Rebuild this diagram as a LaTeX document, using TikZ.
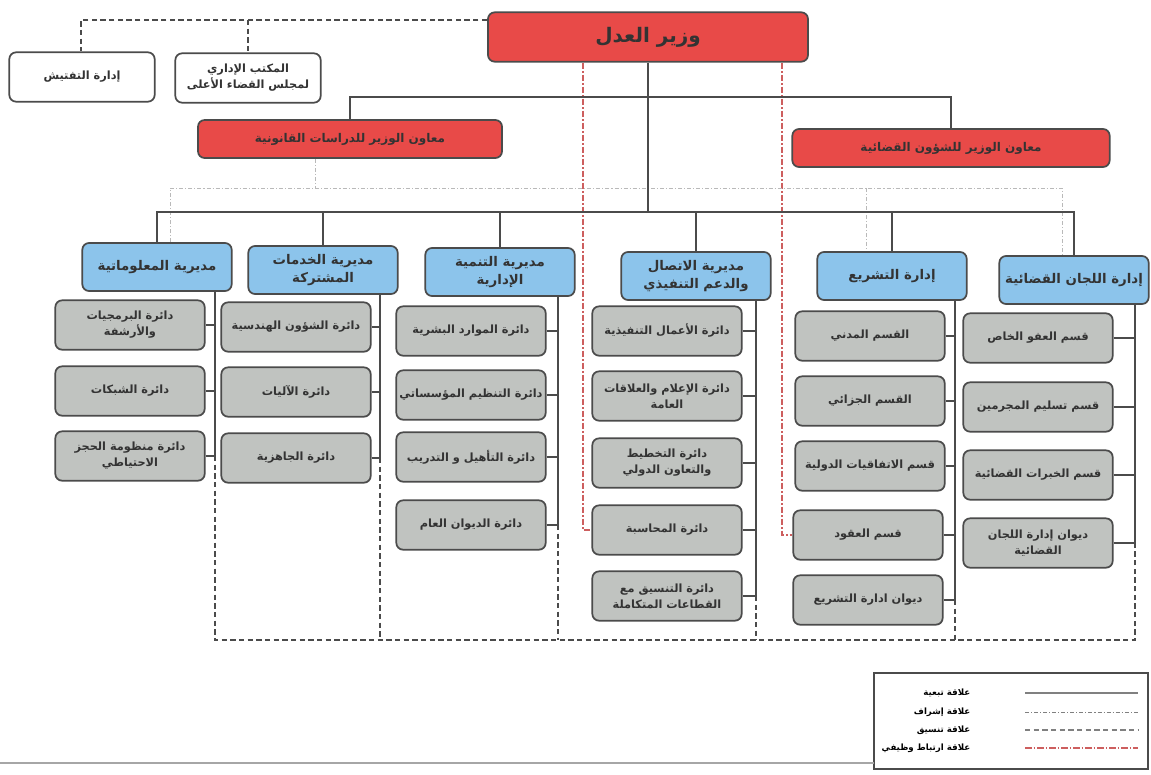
\documentclass[tikz,border=0pt]{standalone}
\usepackage{fontspec}
\usepackage{tikz}
\usetikzlibrary{positioning}
\TeXXeTstate=1
\newfontfamily\arabicfont[Script=Arabic]{DejaVu Sans}
\newcommand{\ar}[1]{{\arabicfont\beginR #1\endR}}
\definecolor{redbox}{RGB}{232,74,72}
\definecolor{bluebox}{RGB}{140,196,235}
\definecolor{graybox}{RGB}{192,195,192}
\definecolor{edge}{RGB}{75,75,75}
\definecolor{linkred}{RGB}{205,95,95}

\begin{document}
\begin{tikzpicture} [x = 0.75pt, y = -0.75pt,
  box/.style = {draw = edge, line width = 1.3pt, rounded corners = 5pt, align = center, text = black!80, inner sep = 1.5pt},
  minbox/.style = {box, fill = redbox, minimum width = 240pt, minimum height = 37pt, font = \bfseries\fontsize{15}{17}\selectfont},
  asstbox/.style = {box, fill = redbox, minimum width = 228pt, minimum height = 28.5pt, font = \bfseries\fontsize{9}{11}\selectfont},
  whitebox/.style = {box, fill = white, minimum width = 109pt, minimum height = 37pt, font = \bfseries\fontsize{8.5}{12}\selectfont},
  dirbox/.style = {box, fill = bluebox, minimum width = 112pt, minimum height = 36pt, font = \bfseries\fontsize{10}{13}\selectfont},
  secbox/.style = {box, fill = graybox, minimum width = 112pt, minimum height = 37pt, font = \bfseries\fontsize{8.5}{12}\selectfont},
  subline/.style = {draw = edge, line width = 1.1pt},
  supline/.style = {draw = gray!55, line width = 0.6pt, dash pattern = on 3pt off 1.5pt on 0.8pt off 1.5pt},
  coordline/.style = {draw = edge, line width = 1.1pt, dash pattern = on 4pt off 2.5pt},
  linkline/.style = {draw = linkred, line width = 0.9pt, dash pattern = on 5pt off 1.5pt on 1pt off 1.5pt}]
\useasboundingbox (0,0) rectangle (1151,774);

% top level
\node[minbox] (min) at (648,37) {\ar{وزير العدل}};
\node[whitebox] (insp) at (82,77) {\ar{إدارة التفتيش}};
\node[whitebox] (office) at (248,78) {\ar{المكتب الإداري}\\\ar{لمجلس القضاء الأعلى}};
\node[asstbox] (ra1) at (350,139) {\ar{معاون الوزير للدراسات القانونية}};
\node[asstbox, minimum width = 238pt] (ra2) at (951,148) {\ar{معاون الوزير للشؤون القضائية}};

% directorates
\node[dirbox] (b1) at (157,267) {\ar{مديرية المعلوماتية}};
\node[dirbox] (b2) at (323,270) {\ar{مديرية الخدمات}\\\ar{المشتركة}};
\node[dirbox] (b3) at (500,272) {\ar{مديرية التنمية}\\\ar{الإدارية}};
\node[dirbox] (b4) at (696,276) {\ar{مديرية الاتصال}\\\ar{والدعم التنفيذي}};
\node[dirbox] (b5) at (892,276) {\ar{إدارة التشريع}};
\node[dirbox] (b6) at (1074,280) {\ar{إدارة اللجان القضائية}};

% sections
\node[secbox] (g11) at (130,325) {\ar{دائرة البرمجيات}\\\ar{والأرشفة}};
\node[secbox] (g12) at (130,391) {\ar{دائرة الشبكات}};
\node[secbox] (g13) at (130,456) {\ar{دائرة منظومة الحجز}\\\ar{الاحتياطي}};

\node[secbox] (g21) at (296,327) {\ar{دائرة الشؤون الهندسية}};
\node[secbox] (g22) at (296,392) {\ar{دائرة الآليات}};
\node[secbox] (g23) at (296,458) {\ar{دائرة الجاهزية}};

\node[secbox] (g31) at (471,331) {\ar{دائرة الموارد البشرية}};
\node[secbox] (g32) at (471,395) {\ar{دائرة التنظيم المؤسساتي}};
\node[secbox] (g33) at (471,457) {\ar{دائرة التأهيل و التدريب}};
\node[secbox] (g34) at (471,525) {\ar{دائرة الديوان العام}};

\node[secbox] (g41) at (667,331) {\ar{دائرة الأعمال التنفيذية}};
\node[secbox] (g42) at (667,396) {\ar{دائرة الإعلام والعلاقات}\\\ar{العامة}};
\node[secbox] (g43) at (667,463) {\ar{دائرة التخطيط}\\\ar{والتعاون الدولي}};
\node[secbox] (g44) at (667,530) {\ar{دائرة المحاسبة}};
\node[secbox] (g45) at (667,596) {\ar{دائرة التنسيق مع}\\\ar{القطاعات المتكاملة}};

\node[secbox] (g51) at (870,336) {\ar{القسم المدني}};
\node[secbox] (g52) at (870,401) {\ar{القسم الجزائي}};
\node[secbox] (g53) at (870,466) {\ar{قسم الاتفاقيات الدولية}};
\node[secbox] (g54) at (868,535) {\ar{قسم العقود}};
\node[secbox] (g55) at (868,600) {\ar{ديوان ادارة التشريع}};

\node[secbox] (g61) at (1038,338) {\ar{قسم العفو الخاص}};
\node[secbox] (g62) at (1038,407) {\ar{قسم تسليم المجرمين}};
\node[secbox] (g63) at (1038,475) {\ar{قسم الخبرات القضائية}};
\node[secbox] (g64) at (1038,543) {\ar{ديوان إدارة اللجان}\\\ar{القضائية}};

% junction points
\coordinate (c0) at (81,20);
\coordinate (c1) at (248,20);
\coordinate (hub1) at (648,97);
\coordinate (hub2) at (648,212);
\coordinate (sv0) at (315,188);
\coordinate (sv1) at (170,188);
\coordinate (sv2) at (866,188);
\coordinate (sv3) at (1062,188);
\coordinate (s1) at (215,456);
\coordinate (s2) at (380,458);
\coordinate (s3) at (558,525);
\coordinate (s4) at (756,596);
\coordinate (s5) at (955,600);
\coordinate (s6) at (1135,543);
\coordinate (bot) at (0,640);
\coordinate (lk1) at (583,530);
\coordinate (lk2) at (782,535);

% coordination with the minister
\draw[coordline] (min.west |- c0) -- (c0) -- (insp.north -| c0);
\draw[coordline] (c1) -- (office.north);

% functional link
\draw[linkline] (min.south -| lk1) -- (lk1) -- (g44.west);
\draw[linkline] (min.south -| lk2) -- (lk2) -- (g54.west);

% supervision
\draw[supline] (ra1.south -| sv0) -- (sv0);
\draw[supline] (b1.north -| sv1) -- (sv1) -- (sv3) -- (b6.north -| sv3);
\draw[supline] (sv2) -- (b5.north -| sv2);

% hierarchy
\draw[subline] (ra1.north) |- (hub1) -| (ra2.north);
\draw[subline] (min.south) -- (hub2);
\draw[subline] (b1.north) |- (hub2) -| (b6.north);
\foreach \b in {b2,b3,b4,b5}
  \draw[subline] (\b.north) -- (\b.north |- hub2);
\draw[subline] (b1.south -| s1) -- (s1);
\draw[subline] (b2.south -| s2) -- (s2);
\draw[subline] (b3.south -| s3) -- (s3);
\draw[subline] (b4.south -| s4) -- (s4);
\draw[subline] (b5.south -| s5) -- (s5);
\draw[subline] (b6.south -| s6) -- (s6);
\foreach \g in {g11,g12,g13} \draw[subline] (\g.east) -- (\g.east -| s1);
\foreach \g in {g21,g22,g23} \draw[subline] (\g.east) -- (\g.east -| s2);
\foreach \g in {g31,g32,g33,g34} \draw[subline] (\g.east) -- (\g.east -| s3);
\foreach \g in {g41,g42,g43,g44,g45} \draw[subline] (\g.east) -- (\g.east -| s4);
\foreach \g in {g51,g52,g53,g54,g55} \draw[subline] (\g.east) -- (\g.east -| s5);
\foreach \g in {g61,g62,g63,g64} \draw[subline] (\g.east) -- (\g.east -| s6);

% coordination frame at the bottom
\draw[coordline] (s1) -- (s1 |- bot) -- (s6 |- bot) -- (s6);
\foreach \k in {2,...,5}
  \draw[coordline] (s\k) -- (s\k |- bot);

% legend
\draw[draw = edge, line width = 0.9pt] (874,673) rectangle (1148,769);
\draw[draw = gray!70, line width = 0.9pt] (0,763) -- (874,763);
\node[anchor = east, font = \bfseries\fontsize{6.5}{8}\selectfont] (l1) at (975,693) {\ar{علاقة تبعية}};
\node[anchor = east, font = \bfseries\fontsize{6.5}{8}\selectfont] (l2) at (975,712) {\ar{علاقة إشراف}};
\node[anchor = east, font = \bfseries\fontsize{6.5}{8}\selectfont] (l3) at (975,730) {\ar{علاقة تنسيق}};
\node[anchor = east, font = \bfseries\fontsize{6.5}{8}\selectfont] (l4) at (975,748) {\ar{علاقة ارتباط وظيفي}};
\draw[subline, draw = gray] (l1.east) ++(50,0) -- ++(113,0);
\draw[supline, draw = gray] (l2.east) ++(50,0) -- ++(113,0);
\draw[coordline, draw = gray] (l3.east) ++(50,0) -- ++(113,0);
\draw[linkline] (l4.east) ++(50,0) -- ++(113,0);
\end{tikzpicture}
\end{document}
